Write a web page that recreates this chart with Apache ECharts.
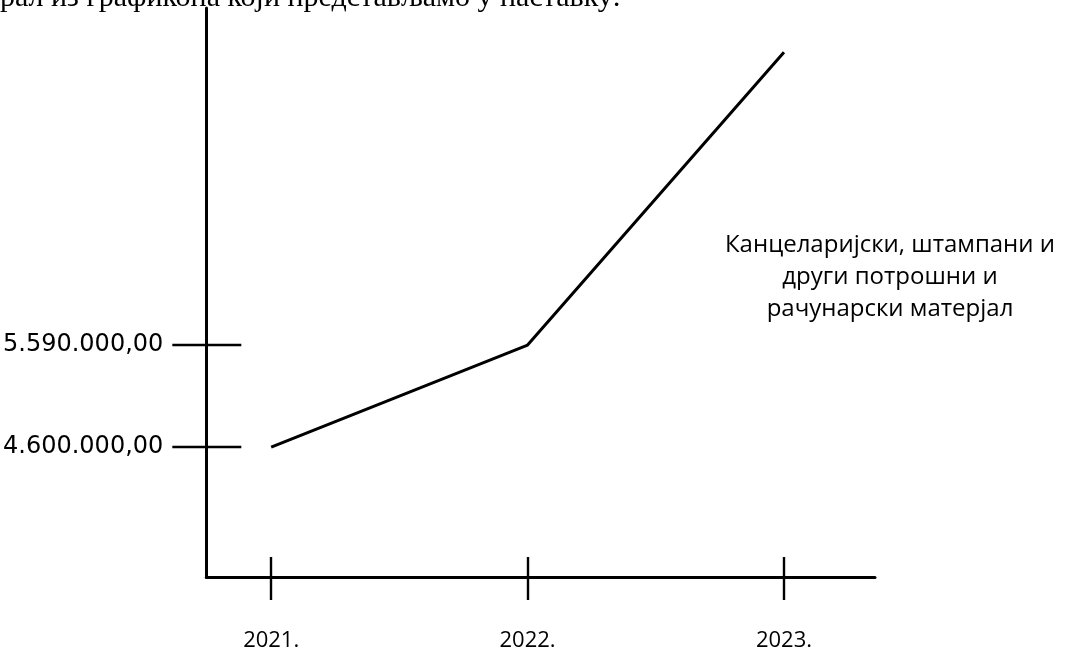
<!DOCTYPE html>
<html>
<head>
<meta charset="utf-8">
<script src="https://cdn.jsdelivr.net/npm/echarts@6/dist/echarts.min.js"></script>
<style>
html,body{margin:0;padding:0;background:#fff;}
#chart{width:1069px;height:657px;}
</style>
</head>
<body>
<div id="chart"></div>
<script>
// Data
var years = [2021, 2022, 2023];
var values = [4600000, 5590000, 8430000];
var yTickValues = [4600000, 5590000];
var seriesName = 'Канцеларијски, штампани и\nдруги потрошни и\nрачунарски матерјал';
var headerText = 'рал из графикона који представљамо у наставку:';

function fmtMoney(v) {
  var s = Math.round(v).toString().replace(/\B(?=(\d{3})+(?!\d))/g, '.');
  return s + ',00';
}

var yMin = 3340000, yMax = 8860000;
var xMin = 2020.747, xMax = 2023.355;

var chart = echarts.init(document.getElementById('chart'), null, {renderer: 'canvas'});
chart.setOption({
  animation: false,
  backgroundColor: '#fff',
  grid: {left: 206, right: 194, top: 8, bottom: 80},
  xAxis: [{
    type: 'value', min: xMin, max: xMax, position: 'bottom',
    axisLine: {show: true, lineStyle: {color: '#000', width: 3}},
    axisTick: {show: true, inside: false, length: 23, customValues: years, lineStyle: {color: '#000', width: 2.4}},
    axisLabel: {show: true, customValues: years, margin: 53, color: '#000',
      fontFamily: 'Open Sans', fontSize: 22, formatter: function (v) { return v + '.'; }},
    splitLine: {show: false}
  }, {
    type: 'value', min: xMin, max: xMax, position: 'bottom',
    axisLine: {show: false},
    axisTick: {show: true, inside: true, length: 20, customValues: years, lineStyle: {color: '#000', width: 2.4}},
    axisLabel: {show: false},
    splitLine: {show: false}
  }],
  yAxis: [{
    type: 'value', min: yMin, max: yMax, position: 'left',
    axisLine: {show: true, lineStyle: {color: '#000', width: 3}},
    axisTick: {show: true, inside: false, length: 34, customValues: yTickValues, lineStyle: {color: '#000', width: 2.4}},
    axisLabel: {show: true, customValues: yTickValues, margin: 43, color: '#000',
      fontFamily: 'DejaVu Sans', fontSize: 24, formatter: fmtMoney},
    splitLine: {show: false}
  }, {
    type: 'value', min: yMin, max: yMax, position: 'left',
    axisLine: {show: false},
    axisTick: {show: true, inside: true, length: 35, customValues: yTickValues, lineStyle: {color: '#000', width: 2.4}},
    axisLabel: {show: false},
    splitLine: {show: false}
  }],
  graphic: [{
    type: 'text', left: 0, top: -17,
    style: {text: headerText, fontFamily: 'Liberation Serif', fontSize: 30, fill: '#000'}
  }, {
    type: 'text', x: 890, y: 229,
    style: {text: seriesName, fontFamily: 'Open Sans', fontSize: 24, fill: '#000', textAlign: 'center', textVerticalAlign: 'top', lineHeight: 32}
  }],
  series: [{
    type: 'line', name: 'Канцеларијски', xAxisIndex: 0, yAxisIndex: 0,
    data: years.map(function (y, i) { return [y, values[i]]; }),
    symbol: 'none',
    lineStyle: {color: '#000', width: 3}
  }]
});
</script>
</body>
</html>
